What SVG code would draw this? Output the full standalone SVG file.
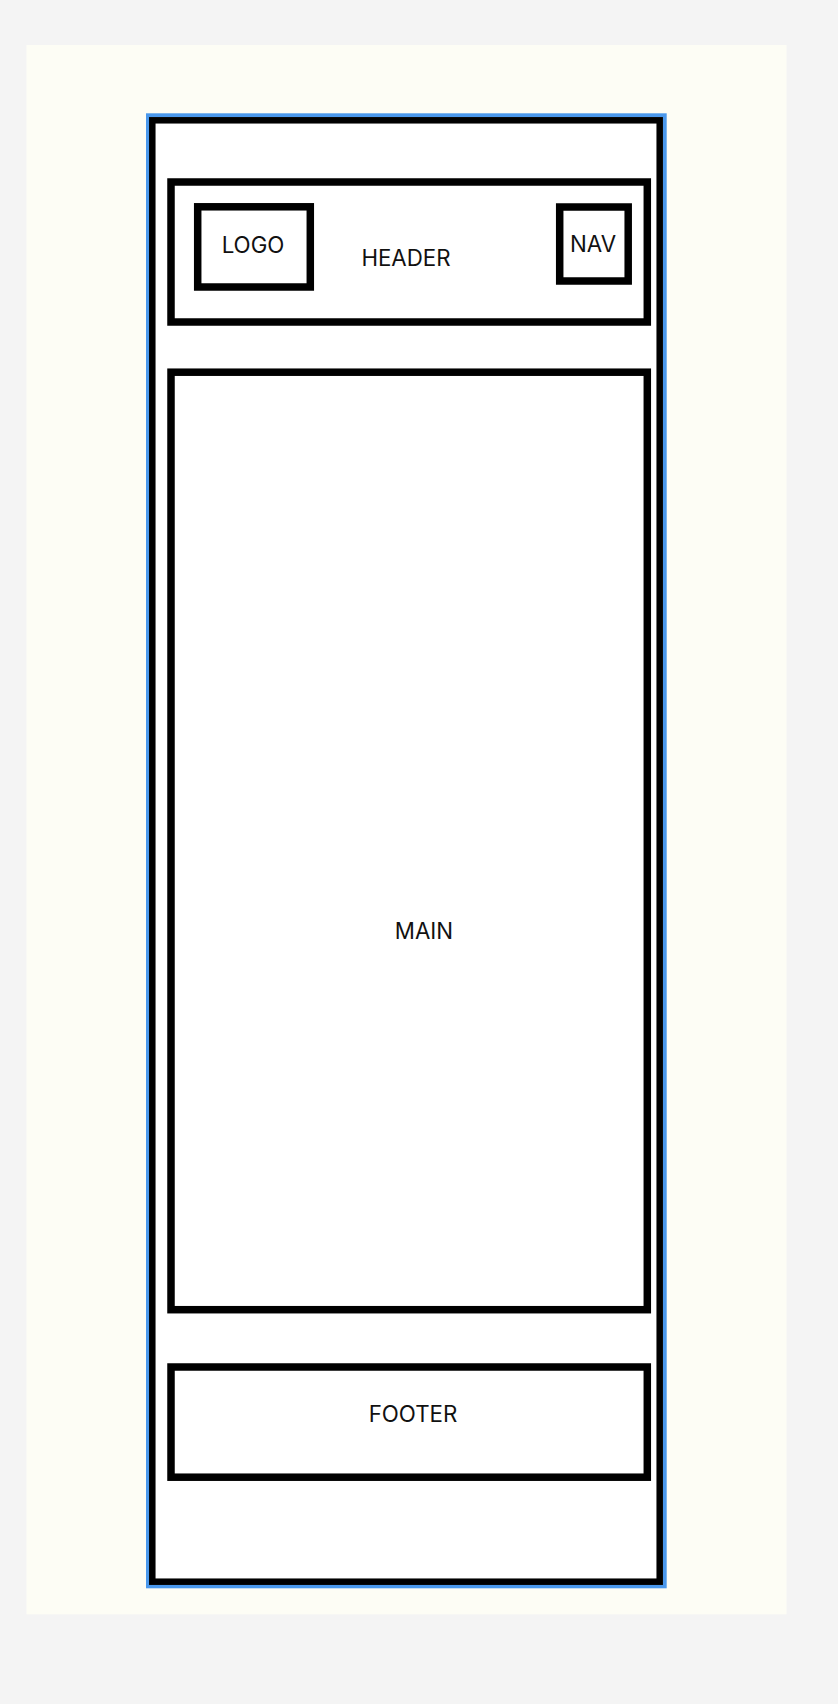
<svg xmlns="http://www.w3.org/2000/svg" width="838" height="1704" viewBox="0 0 838 1704">
  <style>
    .box { fill: #ffffff; stroke: #000000; stroke-width: 7.5; }
    .lbl { font-family: Inter, "Liberation Sans", sans-serif; font-size: 22.3px; fill: #111111; text-anchor: middle; }
  </style>
  <rect x="0" y="0" width="838" height="1704" fill="#f4f4f4"/>
  <rect x="26.5" y="45" width="760" height="1569.3" fill="#fdfdf5"/>
  <g id="page">
    <rect x="148" y="115.3" width="516.7" height="1471" fill="#ffffff" stroke="#4a98ec" stroke-width="4"/>
    <rect x="152.3" y="120.3" width="507.4" height="1461.4" fill="#ffffff" stroke="#000000" stroke-width="6.5"/>
  </g>
  <g id="header">
    <rect class="box" x="171" y="182" width="476.3" height="140"/>
    <text class="lbl" x="406" y="266">HEADER</text>
  </g>
  <g id="logo">
    <rect class="box" x="197.7" y="206.8" width="112.6" height="80.2"/>
    <text class="lbl" x="253" y="252.7">LOGO</text>
  </g>
  <g id="nav">
    <rect class="box" x="559.7" y="207" width="68.5" height="74"/>
    <text class="lbl" x="593" y="252.3">NAV</text>
  </g>
  <g id="main">
    <rect class="box" x="171" y="372.2" width="476.3" height="937.5"/>
    <text class="lbl" x="424" y="938.5">MAIN</text>
  </g>
  <g id="footer">
    <rect class="box" x="171" y="1367" width="476.3" height="110.2"/>
    <text class="lbl" x="413" y="1421.7">FOOTER</text>
  </g>
  <g id="connectors"/>
</svg>
